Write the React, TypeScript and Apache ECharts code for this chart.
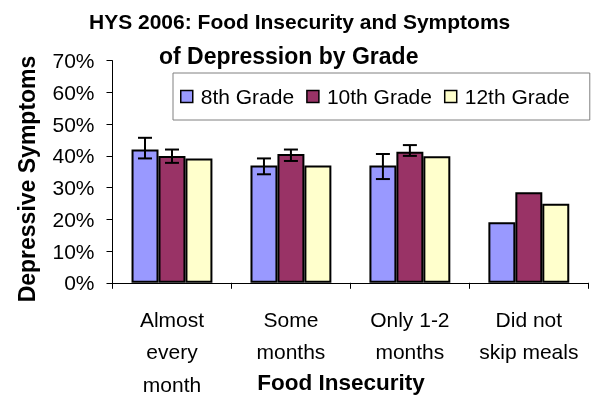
import React, { useEffect, useRef } from "react";
import * as echarts from "echarts";

const categories = ["Almost\nevery\nmonth", "Some\nmonths", "Only 1-2\nmonths", "Did not\nskip meals"];
const seriesNames = ["8th Grade", "10th Grade", "12th Grade"];
const grade8 = [42.0, 37.0, 37.0, 19.1];
const grade10 = [40.0, 40.6, 41.3, 28.5];
const grade12 = [39.2, 37.0, 39.9, 24.9];
// error bars: [categoryIndex, low, high, seriesIndex]
const errorBars = [
  [0, 39.2, 45.7, 0],
  [0, 37.8, 42.0, 1],
  [1, 34.2, 39.2, 0],
  [1, 38.4, 42.0, 1],
  [2, 32.7, 40.6, 0],
  [2, 40.0, 43.4, 1],
];
const yTicks = { min: 0, max: 70, interval: 10 };
const colors = ["#9999FF", "#993366", "#FFFFCC"];

const FONT = "'Liberation Sans', Arial, sans-serif";
const CAT_GAP = 0.32;

export default function App() {
  const ref = useRef<HTMLDivElement>(null);
  useEffect(() => {
    if (!ref.current) return;
    const chart = echarts.init(ref.current, null, { renderer: "svg" });
    const values = [grade8, grade10, grade12];
    const barSeries = seriesNames.map((name, i) => ({
      name,
      type: "bar",
      data: values[i],
      barGap: "0%",
      barCategoryGap: "32%",
      itemStyle: { color: colors[i], borderColor: "#000", borderWidth: 2 },
      emphasis: { disabled: true },
    }));
    chart.setOption({
      animation: false,
      textStyle: { fontFamily: FONT },
      grid: { left: 112.5, right: 5.7, top: 60.7, bottom: 121.2 },
      legend: {
        left: 173,
        top: 73,
        padding: [13, 20, 13, 7],
        itemWidth: 12,
        itemHeight: 12,
        itemGap: 12,
        borderColor: "#808080",
        borderWidth: 1,
        backgroundColor: "#fff",
        icon: "rect",
        data: seriesNames,
        itemStyle: { borderColor: "#000", borderWidth: 1.5 },
        textStyle: { fontSize: 21, color: "#000", fontFamily: FONT, padding: [0, 0, 0, 3] },
      },
      xAxis: {
        type: "category",
        data: categories,
        axisLine: { lineStyle: { color: "#000", width: 1 } },
        axisTick: { show: true, length: 6, lineStyle: { color: "#000" } },
        axisLabel: { fontSize: 21, color: "#000", lineHeight: 32.5, margin: 20, interval: 0, fontFamily: FONT },
      },
      yAxis: {
        type: "value",
        min: yTicks.min,
        max: yTicks.max,
        interval: yTicks.interval,
        axisLine: { show: true, lineStyle: { color: "#000", width: 1 } },
        axisTick: { show: true, length: 6, lineStyle: { color: "#000" } },
        splitLine: { show: false },
        axisLabel: { fontSize: 21, color: "#000", margin: 18, formatter: "{value}%", fontFamily: FONT },
      },
      graphic: [
        {
          type: "text",
          left: 89,
          top: 11,
          style: { text: "HYS 2006: Food Insecurity and Symptoms", font: `bold 21px ${FONT}`, fill: "#000" },
        },
        {
          type: "text",
          left: 159,
          top: 44,
          style: { text: "of Depression by Grade", font: `bold 23px ${FONT}`, fill: "#000" },
        },
        {
          type: "text",
          x: 27,
          y: 179,
          rotation: Math.PI / 2,
          style: {
            text: "Depressive Symptoms",
            font: `bold 23px ${FONT}`,
            fill: "#000",
            align: "center",
            verticalAlign: "middle",
          },
        },
        {
          type: "text",
          x: 341,
          y: 382,
          style: {
            text: "Food Insecurity",
            font: `bold 22.5px ${FONT}`,
            fill: "#000",
            align: "center",
            verticalAlign: "middle",
          },
        },
      ],
      series: [
        ...barSeries,
        {
          type: "custom",
          name: "errors",
          data: errorBars,
          z: 10,
          silent: true,
          encode: { x: 0, y: [1, 2] },
          renderItem: (params: any, api: any) => {
            const cat = api.value(0);
            const lo = api.coord([cat, api.value(1)]);
            const hi = api.coord([cat, api.value(2)]);
            const band = api.size([1, 0])[0];
            const barW = (band * (1 - CAT_GAP)) / 3;
            const x = lo[0] + (api.value(3) - 1) * barW;
            const cap = 7;
            const style = { stroke: "#000", lineWidth: 2 };
            return {
              type: "group",
              children: [
                { type: "line", shape: { x1: x, y1: lo[1], x2: x, y2: hi[1] }, style },
                { type: "line", shape: { x1: x - cap, y1: lo[1], x2: x + cap, y2: lo[1] }, style },
                { type: "line", shape: { x1: x - cap, y1: hi[1], x2: x + cap, y2: hi[1] }, style },
              ],
            };
          },
        },
      ],
    });
    return () => chart.dispose();
  }, []);
  return <div ref={ref} style={{ position: "fixed", left: 0, top: 0, width: 594, height: 404 }} />;
}
